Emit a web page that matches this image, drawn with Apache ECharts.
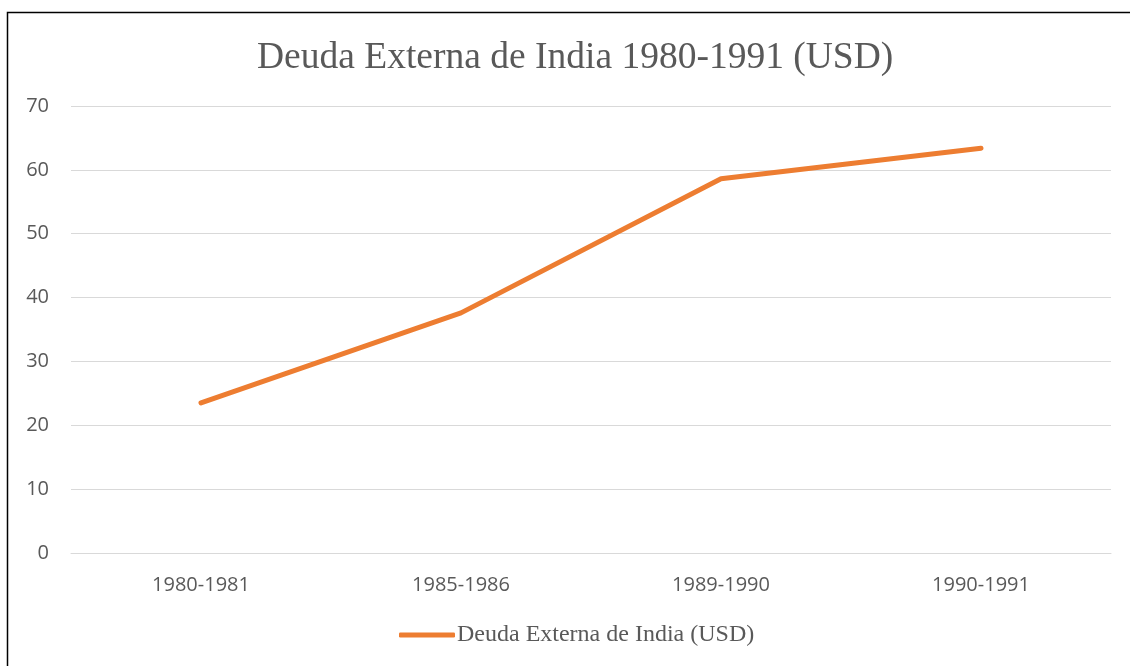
<!DOCTYPE html>
<html lang="es">
<head>
    <meta charset="UTF-8">
    <title>Deuda Externa de India</title>
    <style>
        html, body { margin: 0; padding: 0; background: #fff; }
        #main { width: 1130px; height: 666px; }
    </style>
</head>
<body>
    <div id="main"></div>
    <script src="https://cdn.jsdelivr.net/npm/echarts@6/dist/echarts.min.js"></script>
    <script>
        // datos
        var periodos = ['1980-1981', '1985-1986', '1989-1990', '1990-1991'];
        var deuda = [23.5, 37.6, 58.6, 63.4];
        var serieNombre = 'Deuda Externa de India (USD)';

        var myChart = echarts.init(document.getElementById('main'));
        var option = {
            animation: false,
            graphic: [{
                type: 'rect',
                shape: { x: 7.5, y: 12.5, width: 1200, height: 700 },
                style: { fill: 'none', stroke: '#000', lineWidth: 1.5 },
                silent: true
            }],
            title: {
                text: 'Deuda Externa de India 1980-1991 (USD)',
                left: 252,
                top: 34,
                textStyle: {
                    fontFamily: 'Liberation Serif',
                    fontSize: 37.5,
                    fontWeight: 'normal',
                    color: '#595959'
                }
            },
            legend: {
                bottom: 14,
                left: 394,
                itemWidth: 56,
                itemHeight: 5,
                itemGap: 4,
                icon: 'roundRect',
                data: [serieNombre],
                textStyle: {
                    fontFamily: 'Liberation Serif',
                    fontSize: 24,
                    color: '#595959',
                    padding: [0, 0, 0, -3]
                }
            },
            grid: { left: 71, right: 19, top: 106, bottom: 113 },
            xAxis: {
                type: 'category',
                data: periodos,
                axisLine: { lineStyle: { color: '#d9d9d9', width: 1 } },
                axisTick: { show: false },
                axisLabel: {
                    fontFamily: 'Open Sans',
                    fontSize: 20,
                    color: '#595959',
                    margin: 22
                }
            },
            yAxis: {
                type: 'value',
                min: 0,
                max: 70,
                interval: 10,
                axisLine: { show: false },
                axisTick: { show: false },
                splitLine: { lineStyle: { color: '#d9d9d9', width: 1 } },
                axisLabel: {
                    fontFamily: 'Open Sans',
                    fontSize: 20,
                    color: '#595959',
                    margin: 22
                }
            },
            series: [{
                name: serieNombre,
                type: 'line',
                data: deuda,
                symbol: 'none',
                lineStyle: { color: '#ED7D31', width: 5, cap: 'round', join: 'round' },
                itemStyle: { color: '#ED7D31' }
            }]
        };
        myChart.setOption(option);
    </script>
</body>
</html>
